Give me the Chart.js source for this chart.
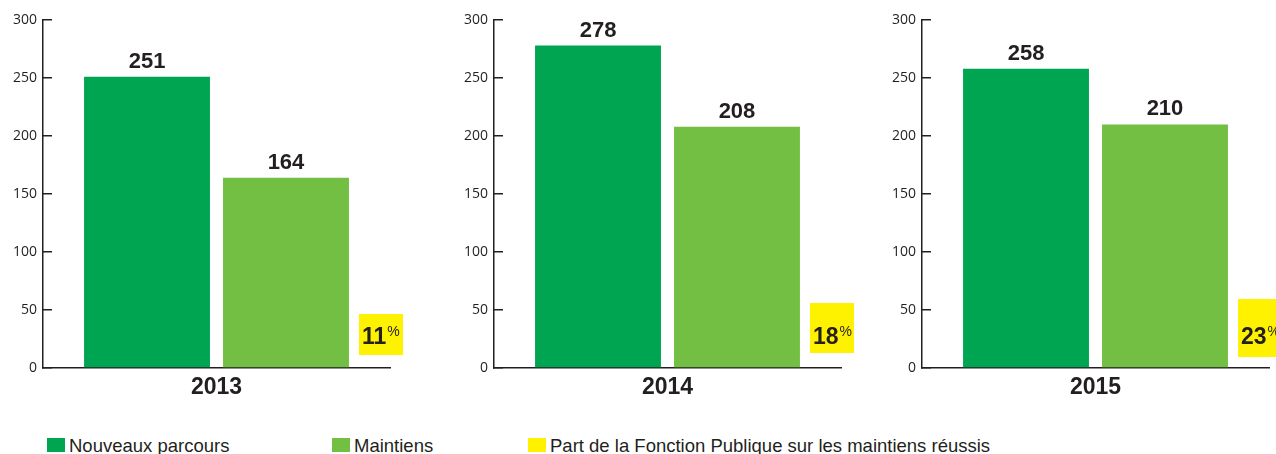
<!DOCTYPE html>
<html><head><meta charset="utf-8">
<script src="https://cdn.jsdelivr.net/npm/chart.js@4.4.0/dist/chart.umd.min.js"></script>
<style>
html,body{margin:0;padding:0;background:#fff;width:1276px;height:454px;overflow:hidden;position:relative;font-family:"Liberation Sans",Arial,sans-serif;}
.panel{position:absolute;top:0;}
.sw{position:absolute;top:438px;width:18px;height:14px;}
.lt{position:absolute;top:435px;font-size:18.5px;line-height:22px;color:#231f20;white-space:nowrap;}
</style>
</head><body>
<canvas id="c0" class="panel" width="420" height="410" style="left:0px"></canvas>
<canvas id="c1" class="panel" width="420" height="410" style="left:451px"></canvas>
<canvas id="c2" class="panel" width="420" height="410" style="left:879px"></canvas>
<div id="legend"></div>
<script>
// ---- data ----
const years = ['2013', '2014', '2015'];
const nouveauxParcours = [251, 278, 258];
const maintiens = [164, 208, 210];
const partFonctionPublique = [11, 18, 23]; // % des maintiens réussis
const yTickMin = 0, yTickMax = 300, yTickStep = 50;
const legendLabels = ['Nouveaux parcours', 'Maintiens', 'Part de la Fonction Publique sur les maintiens réussis'];

// ---- style ----
const FONT = '"Liberation Sans", Arial, sans-serif';
const TICKFONT = '"Open Sans", "Liberation Sans", sans-serif';
const INK = '#231f20';
const colors = ['#00a551', '#72bf44', '#fff200'];
const boxStyle = [ {top: 314, bottom: 355}, {top: 303, bottom: 353}, {top: 299, bottom: 357} ];
const legendPos = [47, 332, 528];

const valueLabels = {
  id: 'valueLabels',
  afterDatasetsDraw(chart) {
    const ctx = chart.ctx;
    ctx.save();
    ctx.font = 'bold 22px ' + FONT;
    ctx.fillStyle = INK;
    ctx.textAlign = 'center';
    ctx.textBaseline = 'alphabetic';
    chart.data.datasets.forEach((ds, di) => {
      chart.getDatasetMeta(di).data.forEach((el, i) => {
        ctx.fillText(String(ds.data[i]), el.x, el.y - 9);
      });
    });
    ctx.restore();
  }
};

const pctBox = {
  id: 'pctBox',
  afterDraw(chart, args, opts) {
    const ctx = chart.ctx, a = chart.chartArea;
    const left = a.right - 31;
    ctx.save();
    ctx.fillStyle = colors[2];
    ctx.fillRect(left, opts.top, 44, opts.bottom - opts.top);
    ctx.fillStyle = INK;
    ctx.textBaseline = 'alphabetic';
    ctx.textAlign = 'left';
    ctx.font = 'bold 23px ' + FONT;
    const t = String(opts.value);
    ctx.fillText(t, left + 3, 344);
    const w = ctx.measureText(t).width;
    ctx.font = '14px ' + FONT;
    ctx.fillText('%', left + 3 + w + 1, 336);
    ctx.restore();
  }
};

years.forEach((yr, i) => {
  new Chart(document.getElementById('c' + i), {
    type: 'bar',
    data: {
      labels: [yr],
      datasets: [
        { label: legendLabels[0], data: [nouveauxParcours[i]], backgroundColor: colors[0], borderWidth: 0 },
        { label: legendLabels[1], data: [maintiens[i]], backgroundColor: colors[1], borderWidth: 0 }
      ]
    },
    options: {
      responsive: false, animation: false, devicePixelRatio: 1,
      categoryPercentage: 0.801, barPercentage: 0.906,
      layout: { padding: { top: 20, right: 30, left: 0, bottom: 0 } },
      plugins: { legend: { display: false }, tooltip: { enabled: false },
        pctBox: { value: partFonctionPublique[i], top: boxStyle[i].top, bottom: boxStyle[i].bottom } },
      scales: {
        x: {
          grid: { display: true, drawOnChartArea: false, drawTicks: false },
          border: { display: true, color: INK, width: 1.5 },
          ticks: { font: { family: FONT, size: 23, weight: 'bold' }, color: INK, padding: 6 },
          afterFit(s) { s.height = 42; }
        },
        y: {
          min: yTickMin, max: yTickMax,
          ticks: { stepSize: yTickStep, font: { family: TICKFONT, size: 14 }, color: INK, padding: 15 },
          grid: { display: true, drawOnChartArea: false, drawTicks: true, tickLength: -9, color: INK, lineWidth: 1.5 },
          border: { display: true, color: INK, width: 1.5 },
          afterFit(s) { s.width = 43; s.paddingTop = 8; s.paddingBottom = 8; }
        }
      }
    },
    plugins: [valueLabels, pctBox]
  });
});

const lg = document.getElementById('legend');
legendLabels.forEach((t, i) => {
  const s = document.createElement('div');
  s.className = 'sw'; s.style.left = legendPos[i] + 'px'; s.style.background = colors[i];
  lg.appendChild(s);
  const d = document.createElement('div');
  d.className = 'lt'; d.style.left = (legendPos[i] + 22) + 'px'; d.textContent = t;
  lg.appendChild(d);
});
</script>
</body></html>
